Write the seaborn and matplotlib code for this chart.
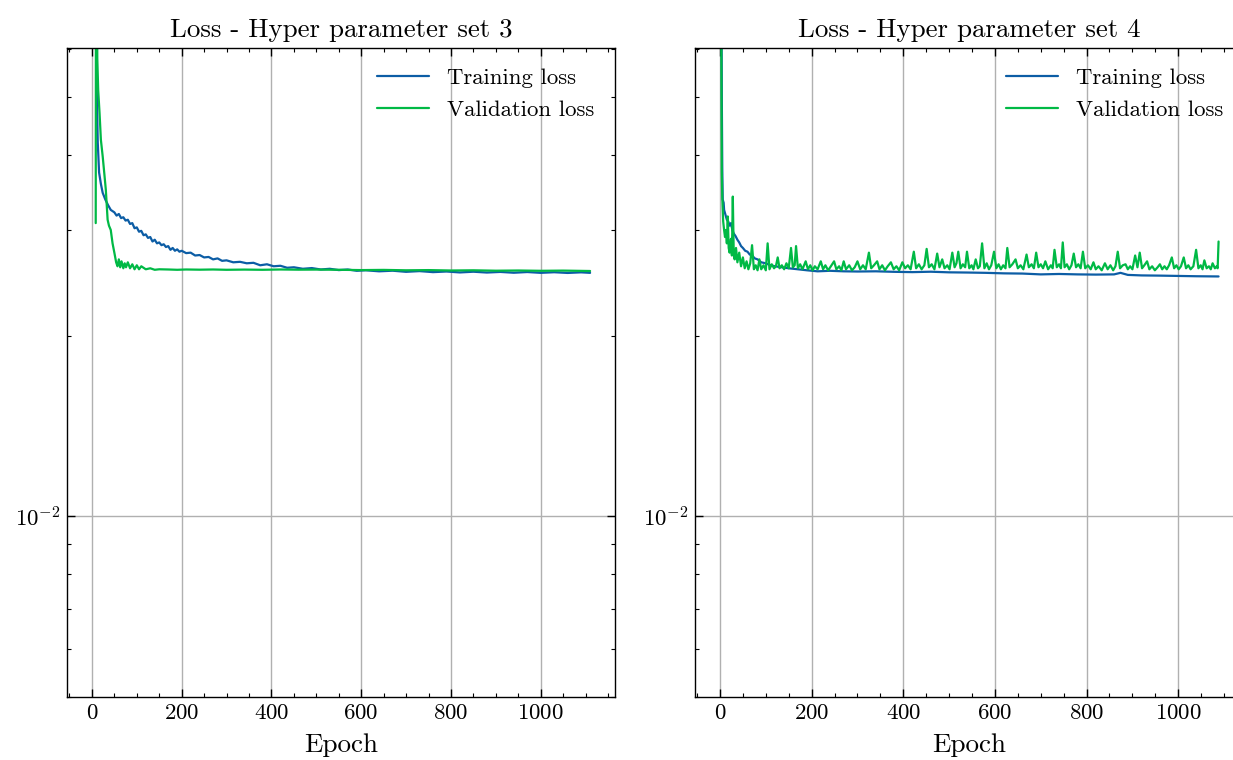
import matplotlib
matplotlib.use("Agg")
import matplotlib.pyplot as plt
import matplotlib.ticker as mticker
import seaborn as sns

# loss values are written in units of 1e-2
# ---- hyper parameter set 3 ----
ep3_train = [1, 5, 8, 10, 13, 16, 20, 24, 30, 36, 42, 50, 55, 60, 65, 70, 75, 80, 85, 90, 95, 100,
             105, 110, 115, 120, 125, 130, 135, 140, 145, 150, 155, 160, 165, 170, 175, 180, 185,
             190, 195, 200, 210, 220, 230, 240, 250, 260, 270, 280, 290, 300, 315, 330, 345, 360,
             375, 390, 405, 420, 435, 450, 470, 490, 510, 530, 550, 570, 590, 610, 640, 670, 700,
             730, 760, 790, 820, 850, 880, 910, 940, 970, 1000, 1030, 1060, 1090, 1110]
loss3_train = [30.0, 12.0, 7.0, 5.5, 4.2, 3.74, 3.58, 3.46, 3.37, 3.30, 3.24, 3.21, 3.17, 3.19,
               3.14, 3.15, 3.11, 3.12, 3.07, 3.08, 3.02, 3.03, 2.98, 2.99, 2.94, 2.95, 2.91, 2.92,
               2.87, 2.89, 2.85, 2.86, 2.83, 2.84, 2.81, 2.82, 2.78, 2.80, 2.77, 2.785, 2.76, 2.77,
               2.745, 2.75, 2.72, 2.725, 2.70, 2.705, 2.68, 2.69, 2.665, 2.67, 2.65, 2.655, 2.64,
               2.645, 2.62, 2.63, 2.61, 2.615, 2.595, 2.60, 2.585, 2.592, 2.578, 2.585, 2.572,
               2.578, 2.565, 2.57, 2.56, 2.566, 2.555, 2.562, 2.552, 2.558, 2.549, 2.556, 2.548,
               2.554, 2.546, 2.553, 2.545, 2.551, 2.544, 2.55, 2.545]

ep3_val = [8.5, 9.5, 12, 14, 17, 20, 24, 28, 31, 35, 38, 42, 46, 50, 54, 57, 60, 63, 66, 70, 73,
           76, 80, 85, 90, 95, 100, 105, 110, 120, 130, 140, 150, 170, 190, 210, 240, 270, 300, 340,
           380, 420, 460, 500, 550, 600, 650, 700, 750, 800, 850, 900, 950, 1000, 1050, 1110]
loss3_val = [3.08, 20.0, 5.8, 5.13, 4.7, 4.24, 3.98, 3.70, 3.50, 3.12, 3.05, 3.00, 2.85, 2.75,
             2.65, 2.61, 2.68, 2.60, 2.66, 2.59, 2.64, 2.60, 2.65, 2.59, 2.63, 2.58, 2.62, 2.58,
             2.61, 2.58, 2.59, 2.575, 2.58, 2.578, 2.575, 2.578, 2.576, 2.578, 2.575, 2.577, 2.575,
             2.578, 2.576, 2.577, 2.575, 2.572, 2.574, 2.57, 2.572, 2.568, 2.57, 2.566, 2.568,
             2.565, 2.567, 2.563]

# ---- hyper parameter set 4 ----
ep4_train = [2, 3, 4, 5, 6, 8, 9, 12, 15, 18, 21, 24, 27, 30, 34, 38, 42, 46, 50, 55, 60, 65, 70,
             76, 82, 90, 100, 110, 120, 135, 150, 170, 190, 213, 240, 270, 300, 340, 380, 420, 460,
             500, 540, 580, 620, 660, 700, 740, 780, 820, 860, 874, 890, 920, 960, 1000, 1040, 1088]
loss4_train = [20.0, 8.0, 5.0, 3.8, 3.37, 3.33, 3.24, 3.18, 3.12, 3.10, 3.05, 3.08, 3.00, 2.96,
               2.93, 2.89, 2.86, 2.82, 2.80, 2.77, 2.76, 2.73, 2.72, 2.69, 2.68, 2.65, 2.64, 2.62,
               2.61, 2.60, 2.59, 2.58, 2.57, 2.56, 2.565, 2.56, 2.558, 2.56, 2.555, 2.552, 2.556,
               2.55, 2.548, 2.545, 2.54, 2.538, 2.53, 2.534, 2.53, 2.528, 2.53, 2.545, 2.525, 2.52,
               2.518, 2.515, 2.512, 2.51]

ep4_val = [2, 3, 4, 5, 7, 9, 11, 13, 15, 17, 19, 21, 24, 26, 28, 30, 32, 35, 38, 42, 46, 50, 54,
           58, 62, 66, 70, 74, 78, 82, 86, 90, 95, 100, 104,
           108, 113, 118, 122, 126, 130, 135, 140, 145, 150, 155, 159, 163, 166, 170, 175, 180,
           187, 192, 197, 202, 207, 213, 220, 225, 230, 236, 242, 249, 254, 260, 265, 270, 275,
           282, 288, 294, 300, 306, 312, 318, 325, 330, 336, 343, 348, 354, 360, 366, 373, 379,
           385, 391, 398, 404, 410, 416, 423, 428, 434, 440, 446, 451, 456, 462, 468, 474, 479,
           485, 490, 496, 501, 507, 512, 516, 520, 525, 530, 535, 539, 544, 549, 553, 558, 563,
           567, 572, 577, 582, 587, 592, 598, 603, 608, 613, 618, 623, 627, 632, 638, 645, 650,
           656, 662, 669, 674, 680, 685, 690, 695, 700, 705, 710, 716, 722, 726, 730, 735, 740,
           744, 748, 752, 757, 762, 767, 772, 777, 782, 787, 792, 797, 803, 809, 815, 820, 826,
           833, 840, 846, 852, 858, 863, 868, 873, 879, 885, 890, 895, 900, 906, 911, 916, 921,
           926, 932, 937, 943, 949, 955, 960, 965, 970, 975, 980, 986, 991, 996, 1001, 1006, 1012,
           1017, 1022, 1027, 1033, 1039, 1044, 1049, 1053, 1057, 1062, 1067, 1071, 1075, 1080,
           1084, 1086, 1088]
loss4_val = [20.0, 6.0, 3.74, 3.40, 3.10, 3.00, 2.92, 3.00, 2.85, 3.16, 2.80, 2.75, 2.90, 2.72,
             3.41, 2.75, 2.68, 2.80, 2.65, 2.75, 2.61, 2.70, 2.59, 2.66, 2.58, 2.64, 2.83, 2.58,
             2.62, 2.57, 2.68, 2.58, 2.62, 2.57, 2.85,
             2.58, 2.63, 2.59, 2.61, 2.70, 2.59, 2.62, 2.58, 2.64, 2.59, 2.80, 2.60, 2.62, 2.82,
             2.59, 2.63, 2.58, 2.66, 2.58, 2.62, 2.57, 2.61, 2.58, 2.66, 2.58, 2.62, 2.57, 2.61,
             2.66, 2.58, 2.61, 2.57, 2.66, 2.58, 2.62, 2.57, 2.60, 2.66, 2.58, 2.62, 2.58, 2.75,
             2.59, 2.62, 2.66, 2.58, 2.62, 2.57, 2.61, 2.65, 2.58, 2.61, 2.57, 2.65, 2.59, 2.62,
             2.58, 2.76, 2.59, 2.63, 2.58, 2.62, 2.79, 2.60, 2.63, 2.58, 2.74, 2.60, 2.68, 2.59,
             2.62, 2.58, 2.75, 2.60, 2.64, 2.76, 2.59, 2.63, 2.60, 2.76, 2.59, 2.62, 2.58, 2.68,
             2.59, 2.61, 2.85, 2.59, 2.64, 2.58, 2.62, 2.76, 2.59, 2.63, 2.58, 2.62, 2.59, 2.80,
             2.60, 2.63, 2.68, 2.59, 2.62, 2.58, 2.73, 2.60, 2.63, 2.59, 2.75, 2.60, 2.63, 2.59,
             2.66, 2.58, 2.62, 2.59, 2.78, 2.60, 2.63, 2.59, 2.86, 2.60, 2.63, 2.58, 2.62, 2.74,
             2.60, 2.63, 2.59, 2.76, 2.59, 2.62, 2.58, 2.65, 2.58, 2.61, 2.57, 2.64, 2.58, 2.62,
             2.57, 2.61, 2.76, 2.59, 2.62, 2.63, 2.58, 2.61, 2.58, 2.72, 2.60, 2.75, 2.59, 2.62,
             2.66, 2.58, 2.61, 2.57, 2.60, 2.63, 2.58, 2.61, 2.58, 2.62, 2.70, 2.59, 2.62, 2.58,
             2.61, 2.70, 2.59, 2.62, 2.58, 2.61, 2.78, 2.59, 2.62, 2.58, 2.67, 2.59, 2.61, 2.58,
             2.64, 2.59, 2.61, 2.59, 2.87]

panels = [
    ("Loss - Hyper parameter set 3", ep3_train, loss3_train, ep3_val, loss3_val, (-55.5, 1165.5)),
    ("Loss - Hyper parameter set 4", ep4_train, loss4_train, ep4_val, loss4_val, (-54.5, 1143.5)),
]

sns.set_style("white")
plt.rcParams["font.family"] = "serif"
plt.rcParams["font.serif"] = ["cmr10"]
plt.rcParams["mathtext.fontset"] = "cm"
plt.rcParams["axes.unicode_minus"] = False
plt.rcParams["axes.formatter.use_mathtext"] = True
plt.rcParams["text.color"] = "black"
plt.rcParams["axes.labelcolor"] = "black"
plt.rcParams["xtick.color"] = "black"
plt.rcParams["ytick.color"] = "black"

blue = "#0C5DA5"
green = "#00B945"

W, H = 1233, 760
fig = plt.figure(figsize=(W / 100, H / 100), dpi=100)
axes = [
    fig.add_axes([67 / W, 1 - 697 / H, (615 - 67) / W, (697 - 48) / H]),
    fig.add_axes([695 / W, 1 - 697 / H, (1244 - 695) / W, (697 - 48) / H]),
]

for ax, (title, et, lt, ev, lv, xl) in zip(axes, panels):
    sns.lineplot(x=et, y=[v * 1e-2 for v in lt], ax=ax, color=blue, lw=1.6,
                 estimator=None, label="Training loss")
    sns.lineplot(x=ev, y=[v * 1e-2 for v in lv], ax=ax, color=green, lw=1.6,
                 estimator=None, label="Validation loss")
    ax.set_yscale("log")
    ax.set_ylim(5.0e-3, 6.03e-2)
    ax.set_xlim(*xl)
    ax.set_axisbelow(True)
    ax.grid(True, which="major", color="#b0b0b0", lw=1)
    ax.xaxis.set_major_locator(mticker.MultipleLocator(200))
    ax.xaxis.set_minor_locator(mticker.MultipleLocator(50))
    ax.yaxis.set_minor_formatter(mticker.NullFormatter())
    ax.tick_params(which="both", direction="in", top=True, right=True,
                   bottom=True, left=True, labelsize=16.5)
    ax.tick_params(which="major", length=6, width=1, pad=5)
    ax.tick_params(which="minor", length=3, width=0.8)
    for s in ax.spines.values():
        s.set_linewidth(1)
        s.set_color("black")
    ax.set_title(title, fontsize=19.4, pad=8)
    ax.set_xlabel("Epoch", fontsize=19.5, labelpad=7)
    ax.set_ylabel("")
    ax.legend(loc="upper right", frameon=False, fontsize=16.4, handlelength=2.3,
              labelspacing=0.5)

fig.savefig("out.png", dpi=100)
